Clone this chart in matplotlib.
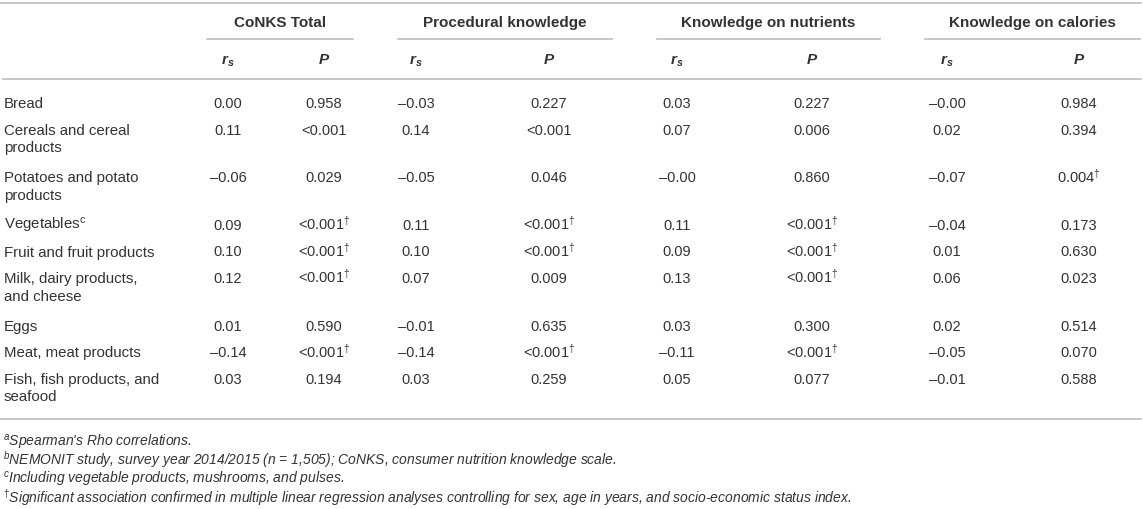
"""
Spearman correlations table: food groups vs. nutrition knowledge (CoNKS).
"""

import matplotlib.pyplot as plt
from matplotlib import font_manager

# ---- data ----
foods = ["Bread", "Cereals and cereal\nproducts", "Potatoes and potato\nproducts",
         "Vegetables$^{\\mathrm{c}}$", "Fruit and fruit products",
         "Milk, dairy products,\nand cheese", "Eggs", "Meat, meat products",
         "Fish, fish products, and\nseafood"]

groups = ["CoNKS Total", "Procedural knowledge", "Knowledge on nutrients", "Knowledge on calories"]

total_r = [0.00, 0.11, -0.06, 0.09, 0.10, 0.12, 0.01, -0.14, 0.03]
total_p = ["0.958", "<0.001", "0.029", "<0.001†", "<0.001†", "<0.001†", "0.590", "<0.001†", "0.194"]

proc_r = [-0.03, 0.14, -0.05, 0.11, 0.10, 0.07, -0.01, -0.14, 0.03]
proc_p = ["0.227", "<0.001", "0.046", "<0.001†", "<0.001†", "0.009", "0.635", "<0.001†", "0.259"]

nutr_r = [0.03, 0.07, -0.00, 0.11, 0.09, 0.13, 0.03, -0.11, 0.05]
nutr_p = ["0.227", "0.006", "0.860", "<0.001†", "<0.001†", "<0.001†", "0.300", "<0.001†", "0.077"]

cal_r = [-0.00, 0.02, -0.07, -0.04, 0.01, 0.06, 0.02, -0.05, -0.01]
cal_p = ["0.984", "0.394", "0.004†", "0.173", "0.630", "0.023", "0.514", "0.070", "0.588"]

footnotes = [
    "$^{\\mathit{a}}$Spearman's Rho correlations.",
    "$^{\\mathit{b}}$NEMONIT study, survey year 2014/2015 (n = 1,505); CoNKS, consumer nutrition knowledge scale.",
    "$^{\\mathit{c}}$Including vegetable products, mushrooms, and pulses.",
    "$^{\\mathrm{†}}$Significant association confirmed in multiple linear regression analyses controlling for sex, "
    "age in years, and socio-economic status index.",
]

# ---- fonts ----
names = {f.name for f in font_manager.fontManager.ttflist}
base = "Liberation Sans" if "Liberation Sans" in names else "DejaVu Sans"
plt.rcParams["font.family"] = [base, "DejaVu Sans"]
plt.rcParams["mathtext.fontset"] = "custom"
plt.rcParams["mathtext.rm"] = base
plt.rcParams["mathtext.it"] = base + ":italic"
plt.rcParams["mathtext.bf"] = base + ":bold"
plt.rcParams["mathtext.bfit"] = base + ":italic:bold"

TXT = "#333333"
LINE = "#bfbfbf"
W, H = 1143, 509

fig = plt.figure(figsize=(W / 100, H / 100), dpi=100)
ax = fig.add_axes([0, 0, 1, 1])
ax.set_xlim(0, W)
ax.set_ylim(H, 0)
ax.axis("off")

# column centres (pixels) for r_s / P in each group, and group underlines
col_x = [(228, 324), (416, 549), (677, 812), (947, 1079)]
under = [(207, 353), (398, 612), (657, 880), (925, 1140)]
drop = 5.3  # baseline sits this far below the visual middle of the digits


def fmt_r(v):
    return ("%.2f" % v).replace("-", "\u2013")


def fmt_p(s):
    if s.endswith("†"):
        return s[:-1] + "$^{\\mathrm{†}}$"
    return s


# rules
ax.plot([0, 1141], [3, 3], color=LINE, lw=1.2)
for x0, x1 in under:
    ax.plot([x0, x1], [39, 39], color=LINE, lw=1.2)
ax.plot([3, 1141], [79, 79], color=LINE, lw=1.2)

# headers
for g, (xr, xp), (x0, x1) in zip(groups, col_x, under):
    ax.text((x0 + x1) / 2, 22 + drop, g, fontsize=11, fontweight="bold", color=TXT,
            ha="center", va="baseline")
    ax.text(xr, 59 + drop, "$\\mathbfit{r}_{\\mathbfit{s}}$", fontsize=11, color=TXT,
            ha="center", va="baseline")
    ax.text(xp, 59 + drop, "P", fontsize=11, fontweight="bold", style="italic", color=TXT,
            ha="center", va="baseline")

# body rows
series = [(total_r, total_p), (proc_r, proc_p), (nutr_r, nutr_p), (cal_r, cal_p)]
y = 103
line_gap = 17.5
for i, label in enumerate(foods):
    lines = label.split("\n")
    for k, part in enumerate(lines):
        ax.text(4, y + k * line_gap + drop, part, fontsize=10.8, color=TXT,
                ha="left", va="baseline")
    for (rs, ps), (xr, xp) in zip(series, col_x):
        ax.text(xr, y + drop, fmt_r(rs[i]), fontsize=10.5, color=TXT, ha="center", va="baseline")
        ax.text(xp, y + drop, fmt_p(ps[i]), fontsize=10.5, color=TXT, ha="center", va="baseline")
    y += 26.6 + (len(lines) - 1) * 20.9

ax.plot([0, 1141], [419, 419], color=LINE, lw=1.2)

# footnotes
for k, note in enumerate(footnotes):
    ax.text(3, 441 + k * 18.8 + drop, note, fontsize=10, style="italic", color=TXT,
            ha="left", va="baseline")

fig.savefig("out.png", dpi=100)
